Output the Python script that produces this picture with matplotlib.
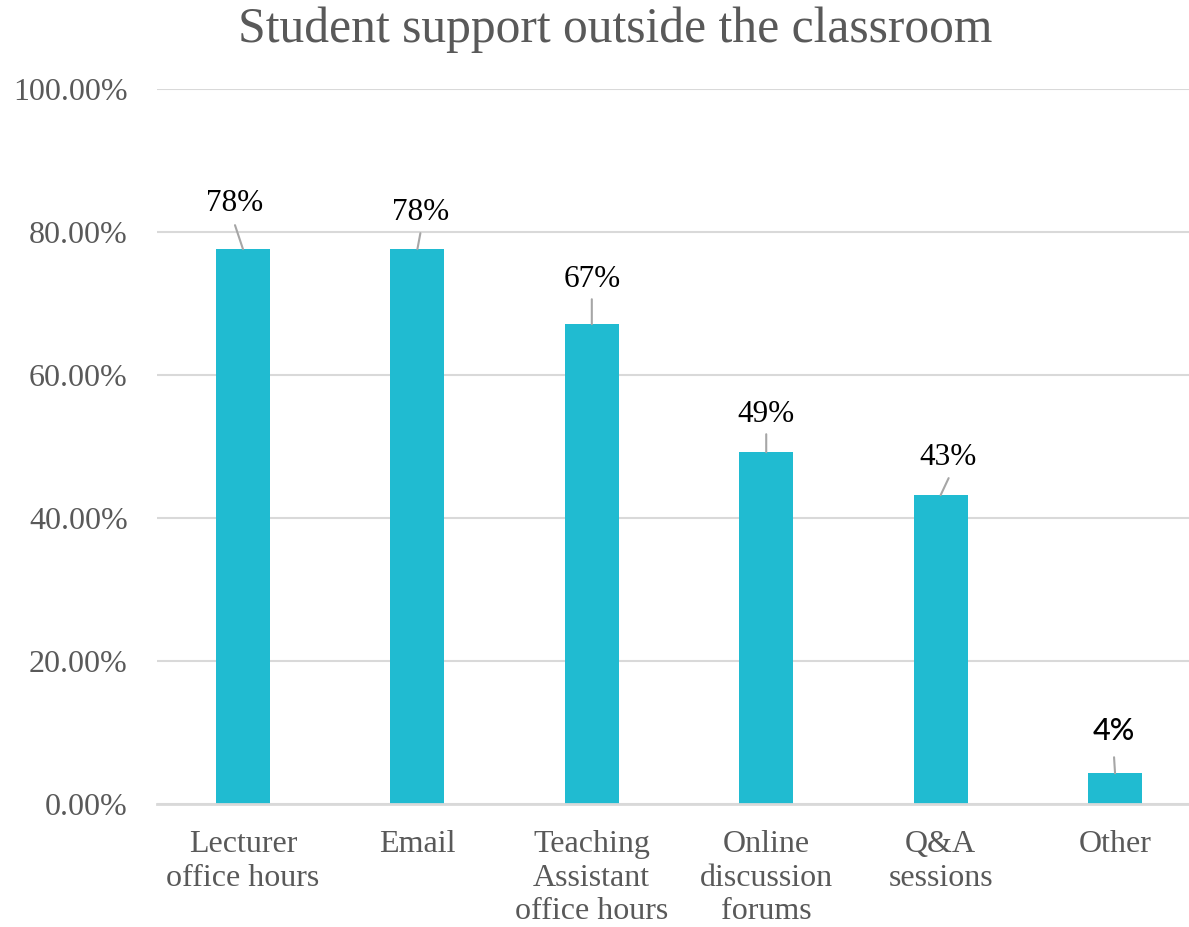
import matplotlib
matplotlib.use("Agg")
import matplotlib.pyplot as plt
from matplotlib.ticker import FuncFormatter

# Survey results
categories = ["Lecturer\noffice hours", "Email", "Teaching\nAssistant\noffice hours",
              "Online\ndiscussion\nforums", "Q&A\nsessions", "Other"]
shares = [0.776, 0.776, 0.671, 0.492, 0.432, 0.043]
y_ticks = [0.0, 0.2, 0.4, 0.6, 0.8, 1.0]

# Label placement (pixel offsets from each bar top): text centre and leader end
label_offsets = [(-8, 46), (3, 37), (0, 45), (0, 38), (7, 38), (-1, 42)]
leader_offsets = [(-8, 24), (3, 16), (0, 25), (0, 18), (8, 17), (-1, 16)]

BAR = "#20BBD1"
GRID = "#D9D9D9"
GREY_TEXT = "#595959"
SERIF = "Liberation Serif"

W, H = 1189, 927
fig = plt.figure(figsize=(W / 100, H / 100), dpi=100)
ax = fig.add_axes([157 / W, (H - 804) / H, (W - 157) / W, 715 / H])

x = list(range(len(categories)))
ax.bar(x, shares, width=0.31, color=BAR, zorder=2)

ax.set_ylim(0, 1.0)
ax.set_xlim(-0.493, 5.424)
ax.set_yticks(y_ticks)
ax.yaxis.set_major_formatter(FuncFormatter(lambda v, _: f"{v:.2%}"))
ax.set_xticks(x)
ax.set_xticklabels(categories, linespacing=1.2)

for lab in ax.get_yticklabels() + ax.get_xticklabels():
    lab.set_fontfamily(SERIF)
    lab.set_fontsize(23)
    lab.set_color(GREY_TEXT)
ax.tick_params(axis="both", length=0)
ax.tick_params(axis="y", pad=21)
ax.tick_params(axis="x", pad=19)

ax.grid(axis="y", color=GRID, linewidth=1.5, zorder=0)
for side in ["top", "right", "left"]:
    ax.spines[side].set_visible(False)
ax.spines["bottom"].set_color(GRID)
ax.spines["bottom"].set_linewidth(2)
ax.spines["bottom"].set_zorder(3)

# Data labels with leader lines
for i, v in enumerate(shares):
    lx, ly = leader_offsets[i]
    ax.annotate("", xy=(i, v), xytext=(lx, ly), textcoords="offset pixels",
                arrowprops=dict(arrowstyle="-", color="#A6A6A6", lw=1.5,
                                shrinkA=0, shrinkB=0), zorder=3)
    tx, ty = label_offsets[i]
    is_last = i == len(shares) - 1
    ax.annotate(f"{v:.0%}", xy=(i, v), xytext=(tx, ty), textcoords="offset pixels",
                ha="center", va="center", color="black",
                fontsize=22 if is_last else 22.5,
                fontfamily="Lato" if is_last else SERIF,
                fontweight="medium" if is_last else "normal")

fig.text(615 / W, (H - 42) / H, "Student support outside the classroom",
         ha="center", va="baseline", fontsize=35.7, fontfamily=SERIF, color=GREY_TEXT)

fig.savefig("out.png", dpi=100)
